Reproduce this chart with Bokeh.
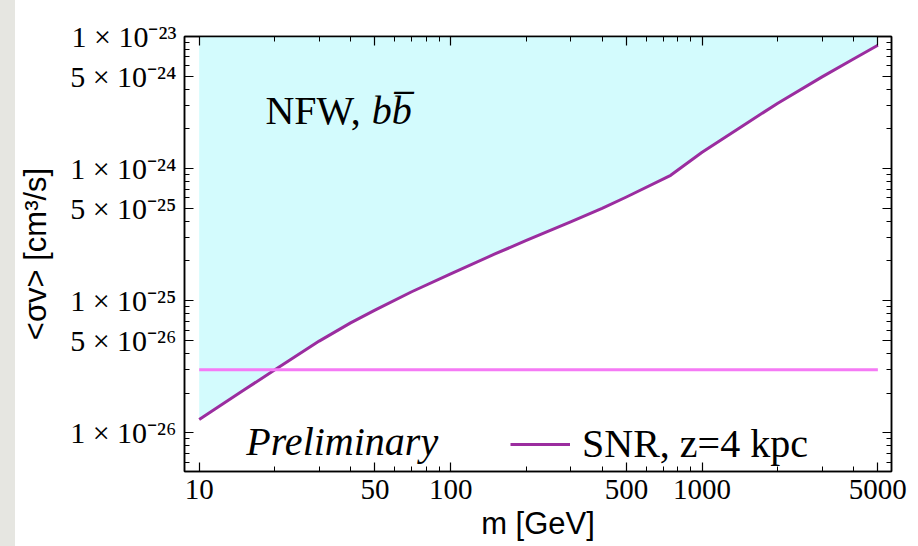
from bokeh.plotting import figure
from bokeh.models import (Range1d, LogAxis, FixedTicker, CustomJSTickFormatter,
                          Label, Legend, LegendItem, Spacer)
from bokeh.layouts import row
from bokeh.embed import file_html
from bokeh.resources import INLINE

# ---- data ----
mass = [10, 15, 20, 30, 40, 50, 70, 100, 150, 200, 300, 400, 500, 750,
        1000, 1500, 2000, 3000, 4000, 5000]
sigma = [1.26e-26, 2.1e-26, 3.0e-26, 4.95e-26, 6.8e-26, 8.5e-26, 1.17e-25,
         1.6e-25, 2.26e-25, 2.86e-25, 3.95e-25, 5.0e-25, 6.1e-25, 8.9e-25,
         1.33e-24, 2.2e-24, 3.13e-24, 4.95e-24, 6.76e-24, 8.6e-24]
thermal_xsec = 3.0e-26

x_major = [10, 50, 100, 500, 1000, 5000]
x_labels = ["10", "50", "100", "500", "1000", "5000"]
x_minor = [20, 30, 40, 60, 70, 80, 90, 200, 300, 400, 600, 700, 800, 900,
           2000, 3000, 4000]

y_major = [1e-26, 5e-26, 1e-25, 5e-25, 1e-24, 5e-24, 1e-23]
y_labels = ["1 × 10⁻²⁶", "5 × 10⁻²⁶", "1 × 10⁻²⁵", "5 × 10⁻²⁵",
            "1 × 10⁻²⁴", "5 × 10⁻²⁴", "1 × 10⁻²³"]
y_minor = [6e-27, 7e-27, 8e-27, 9e-27,
           2e-26, 3e-26, 4e-26, 6e-26, 7e-26, 8e-26, 9e-26,
           2e-25, 3e-25, 4e-25, 6e-25, 7e-25, 8e-25, 9e-25,
           2e-24, 3e-24, 4e-24, 6e-24, 7e-24, 8e-24, 9e-24]

x_lo, x_hi = 8.74, 5665.0
y_lo, y_hi = 5.1e-27, 1.0e-23

SERIF = "Liberation Serif"
SANS = "Liberation Sans"

p = figure(width=893, height=546, x_axis_type="log", y_axis_type="log",
           x_range=Range1d(x_lo, x_hi), y_range=Range1d(y_lo, y_hi * 1.0005),
           output_backend="svg", toolbar_location=None,
           min_border_left=168, min_border_right=17, min_border_top=36,
           min_border_bottom=75)
p.background_fill_color = "white"
p.border_fill_color = "white"
p.outline_line_color = "black"
p.outline_line_width = 1.5
p.grid.visible = False

fmt_code = """
for (let i = 0; i < vals.length; i++) {
  if (Math.abs(Math.log10(tick) - Math.log10(vals[i])) < 1e-6) return labs[i];
}
return "";
"""
xfmt = CustomJSTickFormatter(args=dict(vals=x_major, labs=x_labels), code=fmt_code)
yfmt = CustomJSTickFormatter(args=dict(vals=y_major, labs=y_labels), code=fmt_code)
blank = CustomJSTickFormatter(code="return '';")

def style_axis(ax, ticker, fmt, show, size="29px"):
    ax.ticker = ticker
    ax.formatter = fmt
    ax.axis_line_color = "black"
    ax.axis_line_width = 1.5
    ax.major_tick_line_color = "black"
    ax.minor_tick_line_color = "black"
    ax.major_tick_line_width = 1.2
    ax.minor_tick_line_width = 1.0
    ax.major_tick_in = 9
    ax.major_tick_out = 0
    ax.minor_tick_in = 5
    ax.minor_tick_out = 0
    ax.major_label_text_font = SERIF
    ax.major_label_text_color = "black"
    ax.major_label_text_font_size = size
    ax.major_label_standoff = 8 if show else 0

xt = FixedTicker(ticks=x_major, minor_ticks=x_minor)
yt = FixedTicker(ticks=y_major, minor_ticks=y_minor)

style_axis(p.xaxis[0], xt, xfmt, True, "29px")
style_axis(p.yaxis[0], yt, yfmt, True, "30px")
p.xaxis[0].axis_label = "m [GeV]"
p.yaxis[0].axis_label = "<σv> [cm³/s]"
for ax in (p.xaxis[0], p.yaxis[0]):
    ax.axis_label_text_font = SANS
    ax.axis_label_text_font_style = "normal"
    ax.axis_label_text_font_size = "31px"
    ax.axis_label_text_color = "black"
p.xaxis[0].axis_label_standoff = 4
p.yaxis[0].axis_label_standoff = 14

top_ax = LogAxis()
style_axis(top_ax, FixedTicker(ticks=x_major, minor_ticks=x_minor), blank, False)
right_ax = LogAxis()
style_axis(right_ax, FixedTicker(ticks=y_major, minor_ticks=y_minor), blank, False)
p.add_layout(top_ax, "above")
p.add_layout(right_ax, "right")

# excluded region
p.varea(x=mass, y1=sigma, y2=[y_hi] * len(mass), fill_color="#d3fbfd")
curve = p.line(mass, sigma, line_color="#9b2d9f", line_width=3,
               line_join="round")
p.line([mass[0], mass[-1]], [thermal_xsec, thermal_xsec],
       line_color="#f57af5", line_width=3)

legend = Legend(items=[LegendItem(label="SNR, z=4 kpc", renderers=[curve])],
                location=(326, 4), padding=0, margin=0, spacing=0,
                glyph_width=60, glyph_height=40, label_height=40,
                label_standoff=12, background_fill_alpha=0,
                border_line_alpha=0, label_text_font=SERIF,
                label_text_font_size="40px", label_text_color="black")
p.add_layout(legend, "center")

p.add_layout(Label(x=18.34, y=2.75e-24, text="NFW,", text_font=SERIF,
                   text_font_size="40px", text_baseline="alphabetic",
                   text_color="black"))
p.add_layout(Label(x=48.6, y=2.75e-24, text="bb\u0305", text_font=SERIF,
                   text_font_style="italic", text_font_size="40px",
                   text_baseline="alphabetic", text_color="black"))
p.add_layout(Label(x=15.4, y=8.55e-27, text="Preliminary", text_font=SERIF,
                   text_font_style="italic", text_font_size="40px",
                   text_baseline="alphabetic", text_color="black"))

layout = row(Spacer(width=15, height=546, styles={"background-color": "#e6e6e1"}), p)

html = file_html(layout, INLINE)
html = html.replace("<body>", '<body style="margin:0;background:#e6e6e1;">', 1)
open("out.html", "w").write(html)
